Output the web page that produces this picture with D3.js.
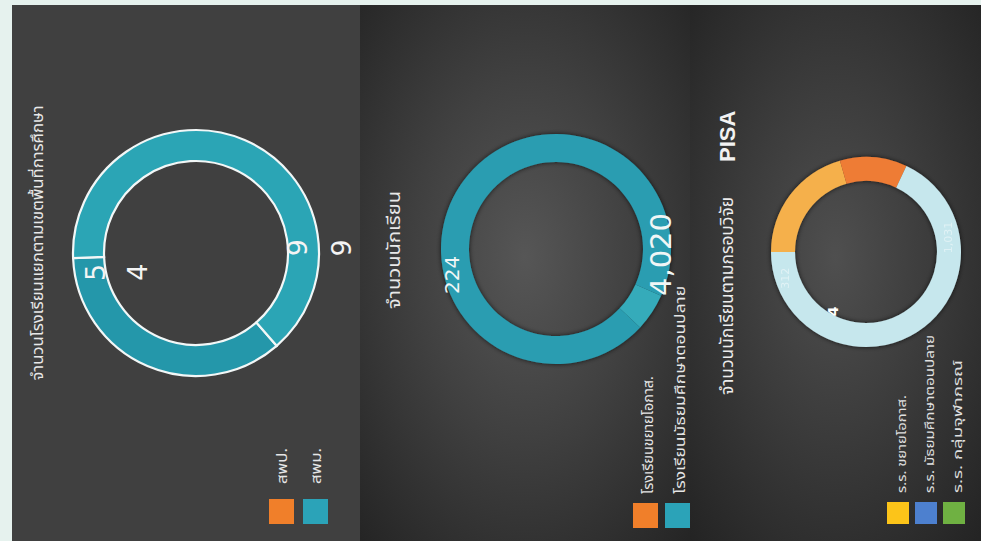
<!DOCTYPE html>
<html><head><meta charset="utf-8">
<script src="https://cdn.jsdelivr.net/npm/d3@7/dist/d3.min.js"></script>
<style>html,body{margin:0;padding:0;background:#e6f2ee;}svg{display:block;}</style>
</head><body>
<script>
// ---------- data ----------
const schoolCategories = ["สพป.", "สพม."];
const schoolValues = [5, 9];
const schoolInnerLabels = ["5", "9"];
const schoolOuterLabels = ["4", "9"];

const studentCategories = ["โรงเรียนขยายโอกาส.", "โรงเรียนมัธยมศึกษาตอนปลาย"];
const studentValues = [224, 4020];

const pisaCategories = ["ร.ร. ขยายโอกาส.", "ร.ร. มัธยมศึกษาตอนปลาย", "ร.ร. กลุ่มจุฬาภรณ์"];
const pisaSegments = ["ขยายโอกาส", "กลุ่มจุฬาภรณ์", "มัธยมศึกษาตอนปลาย"];
const pisaValues = [312, 173, 1031];
const pisaMarkLabel = "4";

const titles = ["จำนวนโรงเรียนแยกตามเขตพื้นที่การศึกษา", "จำนวนนักเรียน", "จำนวนนักเรียนตามกรอบวิจัย", "PISA"];

// ---------- setup ----------
const W = 981, H = 541;
const FONT = "'Noto Sans Thai','Noto Sans','DejaVu Sans',sans-serif";
const svg = d3.select("body").append("svg").attr("width", W).attr("height", H);
const defs = svg.append("defs");
const rad = d => d * Math.PI / 180;

function radial(id, stops) {
  const g = defs.append("radialGradient").attr("id", id).attr("cx", "50%").attr("cy", "47%").attr("r", "75%");
  stops.forEach(s => g.append("stop").attr("offset", s[0]).attr("stop-color", s[1]));
}
radial("bg2", [["0%", "#565656"], ["45%", "#404040"], ["100%", "#232323"]]);
radial("bg3", [["0%", "#4f4f4f"], ["45%", "#3b3b3b"], ["100%", "#222222"]]);
const sh = defs.append("filter").attr("id", "shadow").attr("x", "-20%").attr("y", "-20%").attr("width", "140%").attr("height", "140%");
sh.append("feDropShadow").attr("dx", 0).attr("dy", 0).attr("stdDeviation", 2.5).attr("flood-color", "#000").attr("flood-opacity", 0.7);

// backgrounds
svg.append("rect").attr("x", 0).attr("y", 0).attr("width", W).attr("height", H).attr("fill", "#e6f2ee");
svg.append("rect").attr("x", 12).attr("y", 5).attr("width", 348).attr("height", H - 5).attr("fill", "#404040");
svg.append("rect").attr("x", 360).attr("y", 5).attr("width", 330).attr("height", H - 5).attr("fill", "url(#bg2)");
svg.append("rect").attr("x", 690).attr("y", 5).attr("width", W - 690).attr("height", H - 5).attr("fill", "url(#bg3)");

function rotText(x, y, txt, o) {
  o = o || {};
  const t = svg.append("text")
    .attr("transform", `translate(${x},${y}) rotate(-90)`)
    .attr("text-anchor", o.anchor || "start")
    .attr("fill", o.fill || "#e6e6e6")
    .attr("font-family", o.family || FONT)
    .attr("font-size", o.size || 13)
    .attr("font-weight", o.weight || "normal")
    .text(txt);
  if (o.baseline) t.attr("dominant-baseline", o.baseline);
  if (o.len) t.attr("textLength", o.len).attr("lengthAdjust", "spacingAndGlyphs");
  if (o.opacity != null) t.attr("opacity", o.opacity);
  return t;
}
function polar(cx, cy, r, aDeg) {
  return [cx + r * Math.sin(rad(aDeg)), cy - r * Math.cos(rad(aDeg))];
}
const NUMFONT = "'DejaVu Sans',sans-serif";

// ---------- panel 1 ----------
{
  const cx = 196, cy = 253, R = 123, r = 92;
  const pie = d3.pie().sort(null).startAngle(rad(139)).endAngle(rad(139 + 360));
  const arc = d3.arc().innerRadius(r).outerRadius(R);
  const colors = ["#2497aa", "#2ba5b5"];
  const g = svg.append("g").attr("transform", `translate(${cx},${cy})`);
  const arcs = pie(schoolValues);
  g.selectAll("path").data(arcs).join("path")
    .attr("d", arc).attr("fill", (d, i) => colors[i])
    .attr("stroke", "#f2f7f7").attr("stroke-width", 2.2);
  const labAng = [259, 87];
  arcs.forEach((d, i) => {
    const [x1, y1] = polar(cx, cy, 102, labAng[i]);
    rotText(x1, y1, schoolInnerLabels[i], {anchor: "middle", baseline: "central", size: 27, fill: "#f4f4f4", family: NUMFONT});
  });
  const outAng = [252, 88], outR = [62, 146];
  arcs.forEach((d, i) => {
    const [x1, y1] = polar(cx, cy, outR[i], outAng[i]);
    rotText(x1, y1, schoolOuterLabels[i], {anchor: "middle", baseline: "central", size: 27, fill: "#f4f4f4", family: NUMFONT});
  });
  rotText(43, 243, titles[0], {anchor: "middle", size: 15, len: 275, fill: "#e8e8e8"});
  const legColors = ["#f07f2a", "#2ba3b8"];
  schoolCategories.forEach((c, i) => {
    const x = 269 + i * 34;
    svg.append("rect").attr("x", x).attr("y", 499).attr("width", 25).attr("height", 25).attr("fill", legColors[i]);
    rotText(x + 18, 484, c, {size: 14, len: 36, fill: "#e6e6e6"});
  });
}

// ---------- panel 2 ----------
{
  const cx = 556, cy = 249, R = 115, r = 87;
  const pie = d3.pie().sort(null).startAngle(rad(114)).endAngle(rad(114 + 360));
  const arc = d3.arc().innerRadius(r).outerRadius(R);
  const colors = ["#34abba", "#2a9db1"];
  const g = svg.append("g").attr("transform", `translate(${cx},${cy})`).attr("filter", "url(#shadow)");
  const arcs = pie(studentValues);
  g.selectAll("path").data(arcs).join("path").attr("d", arc).attr("fill", (d, i) => colors[i]);
  const fmt = d3.format(",");
  const labAng = [256, 93], labR = [107, 105], labSize = [20, 29];
  arcs.forEach((d, i) => {
    const [x1, y1] = polar(cx, cy, labR[i], labAng[i]);
    rotText(x1, y1, fmt(studentValues[i]), {anchor: "middle", baseline: "central", size: labSize[i], fill: "#f0f6f6", family: NUMFONT});
  });
  rotText(400, 250, titles[1], {anchor: "middle", size: 18, len: 118, fill: "#e8e8e8"});
  const legColors = ["#f07f2a", "#2ba3b8"];
  const lens = [118, 208];
  studentCategories.forEach((c, i) => {
    const x = 633 + i * 32;
    svg.append("rect").attr("x", x).attr("y", 503).attr("width", 25).attr("height", 25).attr("fill", legColors[i]);
    rotText(x + 20, 494, c, {size: 14, len: lens[i], fill: "#e6e6e6"});
  });
}

// ---------- panel 3 ----------
{
  const cx = 866, cy = 252, R = 95, r = 71;
  const pie = d3.pie().sort(null).startAngle(rad(270)).endAngle(rad(270 + 360));
  const arc = d3.arc().innerRadius(r).outerRadius(R);
  const colors = ["#f5b04c", "#ee7b34", "#c6e7ed"];
  const g = svg.append("g").attr("transform", `translate(${cx},${cy})`).attr("filter", "url(#shadow)");
  const arcs = pie(pisaValues);
  g.selectAll("path").data(arcs).join("path").attr("d", arc).attr("fill", (d, i) => colors[i])
    .append("title").text((d, i) => pisaSegments[i]);
  const fmt = d3.format(",");
  const [lx, ly] = polar(cx, cy, 84, 80);
  rotText(lx, ly, fmt(pisaValues[2]), {anchor: "middle", baseline: "central", size: 11, fill: "#ffffff", opacity: 0.45, family: NUMFONT});
  const [gx, gy] = polar(cx, cy, 85, 252);
  rotText(gx, gy, fmt(pisaValues[0]), {anchor: "middle", baseline: "central", size: 11, fill: "#ffffff", opacity: 0.45, family: NUMFONT});
  const [ox, oy] = polar(cx, cy, 68, 209);
  rotText(ox, oy, pisaMarkLabel, {anchor: "middle", baseline: "central", size: 14, weight: "bold", fill: "#ffffff", family: NUMFONT});

  rotText(733, 395, titles[2], {size: 17, len: 198, fill: "#ececec"});
  rotText(735, 162, titles[3], {size: 22, weight: "bold", fill: "#f2f2f2", family: "'Liberation Sans',Arial,sans-serif"});
  const legColors = ["#fcc419", "#4d80cf", "#6fb142"];
  const lens = [98, 158, 133];
  pisaCategories.forEach((c, i) => {
    const x = 887 + i * 28;
    svg.append("rect").attr("x", x).attr("y", 502).attr("width", 22).attr("height", 22).attr("fill", legColors[i]);
    rotText(x + 19, 493, c, {size: 13, len: lens[i], fill: "#e0e0e0"});
  });
}
</script>
</body></html>
